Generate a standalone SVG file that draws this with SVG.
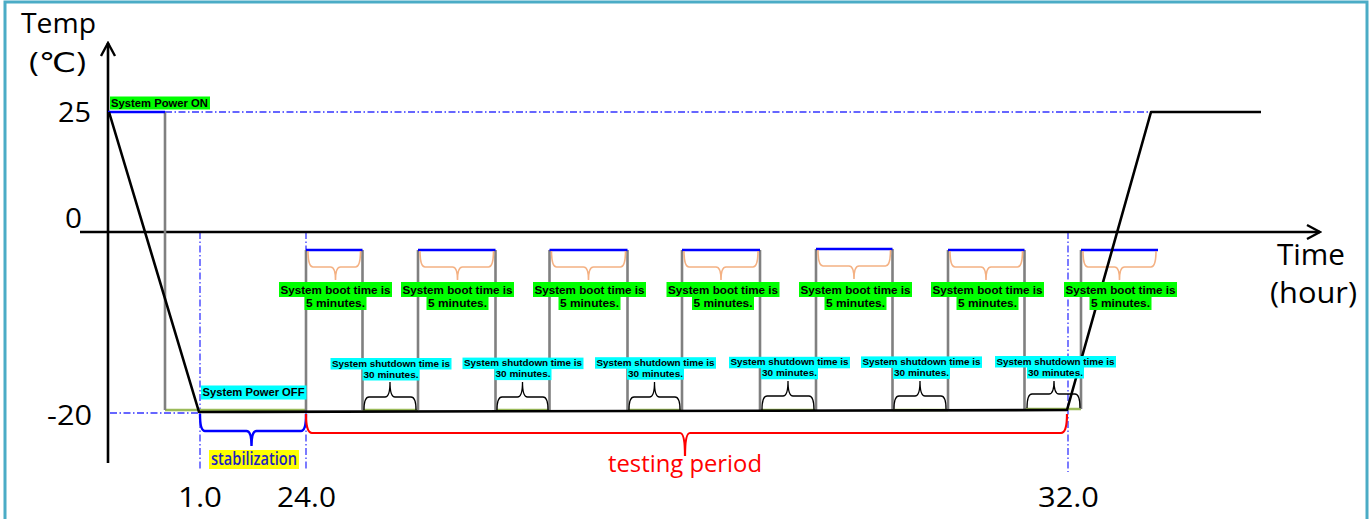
<svg xmlns="http://www.w3.org/2000/svg" width="1370" height="519" viewBox="0 0 1370 519">
  <style>
    .axis { stroke: #000; stroke-width: 2.6; fill: none; }
    .guide { stroke: #3535FF; stroke-width: 1.3; fill: none; stroke-dasharray: 7 2.5 1.5 2.5; }
    .gray { stroke: #808080; stroke-width: 2.6; fill: none; }
    .olive { stroke: #9BBB59; stroke-width: 2.4; fill: none; }
    .top { stroke: #0000FF; stroke-width: 2.6; fill: none; }
    .profile { stroke: #000; stroke-width: 2.6; fill: none; stroke-linejoin: round; }
    .boot { stroke: #F4B183; stroke-width: 1.6; fill: none; }
    .off { stroke: #000; stroke-width: 1.3; fill: none; }
    .big { font-family: "Open Sans", "DejaVu Sans", sans-serif; font-size: 27px; fill: #000; }
    .tag { font-family: "Liberation Sans", "Noto Sans", sans-serif; font-weight: bold; fill: #000; }
    .bootTxt { font-size: 11px; text-anchor: middle; }
    .offTxt { font-size: 9.6px; text-anchor: middle; }
    .green { fill: #00FF00; }
    .cyan { fill: #00FFFF; }
  </style>
  <defs>
    <marker id="chev" markerUnits="userSpaceOnUse" markerWidth="16" markerHeight="18" refX="14" refY="8" orient="auto" viewBox="0 0 16 16">
      <path d="M1,1 L14,8 L1,15" fill="none" stroke="#000" stroke-width="2.4"/>
    </marker>
  </defs>

  <!-- outer frame -->
  <rect x="5" y="2" width="1362" height="540" fill="#fff" stroke="#4BACC6" stroke-width="3"/>

  <!-- reference guides (dash-dot) -->
  <g id="guides">
    <path class="guide" d="M165,112 H1150"/>
    <path class="guide" d="M110,413 H199"/>
    <path class="guide" d="M200,232 V470"/>
    <path class="guide" d="M306,232 V470"/>
    <path class="guide" d="M1068,232 V472"/>
  </g>

  <!-- axes -->
  <g id="axes">
    <path class="axis" d="M108,463 V43" marker-end="url(#chev)"/>
    <path class="axis" d="M80,232 H1320" marker-end="url(#chev)"/>
  </g>

  <!-- power-off intervals at the bottom -->
  <g id="off-intervals">
    <path class="olive" d="M165,410 H306"/>
    <path class="olive" d="M362.5,410 H418"/>
    <path class="olive" d="M495.5,410 H549.5"/>
    <path class="olive" d="M627.5,410 H682"/>
    <path class="olive" d="M760,410 H816"/>
    <path class="olive" d="M892.5,410 H948"/>
    <path class="olive" d="M1024.5,409 H1081"/>
  </g>

  <!-- initial power-on segment -->
  <g id="power-on">
    <path class="gray" d="M165,112 V410"/>
    <path class="top" d="M108,112 H165"/>
  </g>

  <!-- boot cycles -->
  <g id="cycle-1">
    <path class="gray" d="M306,412 V250 M362.5,250 V410"/>
    <path class="top" d="M306,250 H362.5"/>
    <path class="boot" d="M308,251 Q308,267 313,267 L330.5,267 Q335.5,267 335.5,280 Q335.5,267 340.5,267 L355.5,267 Q360.5,267 360.5,251"/>
  </g>
  <g id="cycle-2">
    <path class="gray" d="M418,410 V250 M495.5,250 V410"/>
    <path class="top" d="M418,250 H495.5"/>
    <path class="boot" d="M420,251 Q420,267 425,267 L452.5,267 Q457.5,267 457.5,280 Q457.5,267 462.5,267 L488.5,267 Q493.5,267 493.5,251"/>
  </g>
  <g id="cycle-3">
    <path class="gray" d="M549.5,410 V250 M627.5,250 V410"/>
    <path class="top" d="M549.5,250 H627.5"/>
    <path class="boot" d="M551.5,251 Q551.5,267 556.5,267 L583.5,267 Q588.5,267 588.5,280 Q588.5,267 593.5,267 L620.5,267 Q625.5,267 625.5,251"/>
  </g>
  <g id="cycle-4">
    <path class="gray" d="M682,410 V250 M760,250 V410"/>
    <path class="top" d="M682,250 H760"/>
    <path class="boot" d="M684,251 Q684,267 689,267 L716,267 Q721,267 721,280 Q721,267 726,267 L753,267 Q758,267 758,251"/>
  </g>
  <g id="cycle-5">
    <path class="gray" d="M816,410 V249 M892.5,249 V410"/>
    <path class="top" d="M816,249 H892.5"/>
    <path class="boot" d="M818,250 Q818,266 823,266 L849,266 Q854,266 854,279 Q854,266 859,266 L885.5,266 Q890.5,266 890.5,250"/>
  </g>
  <g id="cycle-6">
    <path class="gray" d="M948,410 V250 M1024.5,250 V409"/>
    <path class="top" d="M948,250 H1024.5"/>
    <path class="boot" d="M950,251 Q950,267 955,267 L981,267 Q986,267 986,280 Q986,267 991,267 L1017.5,267 Q1022.5,267 1022.5,251"/>
  </g>
  <g id="cycle-7">
    <path class="gray" d="M1081,409 V250"/>
    <path class="top" d="M1081,250 H1158"/>
    <path class="boot" d="M1083,251 Q1083,267 1088,267 L1114.5,267 Q1119.5,267 1119.5,280 Q1119.5,267 1124.5,267 L1151,267 Q1156,267 1156,251"/>
  </g>

  <!-- shutdown braces -->
  <g id="shutdown-braces">
    <path class="off" d="M364,410 Q364,397 369,397 L385,397 Q390,397 390,382 Q390,397 395,397 L411,397 Q416,397 416,410"/>
    <path class="off" d="M497,410 Q497,397 502,397 L517.5,397 Q522.5,397 522.5,382 Q522.5,397 527.5,397 L543,397 Q548,397 548,410"/>
    <path class="off" d="M629,410 Q629,397 634,397 L649.5,397 Q654.5,397 654.5,382 Q654.5,397 659.5,397 L675,397 Q680,397 680,410"/>
    <path class="off" d="M762,410 Q762,396 767,396 L783,396 Q788,396 788,381 Q788,396 793,396 L809,396 Q814,396 814,410"/>
    <path class="off" d="M894,409 Q894,396 899,396 L915,396 Q920,396 920,381 Q920,396 925,396 L941,396 Q946,396 946,409"/>
    <path class="off" d="M1027,408 Q1027,394 1032,394 L1049,394 Q1054,394 1054,381 Q1054,394 1059,394 L1075,394 Q1080,394 1080,408"/>
  </g>

  <!-- temperature profile -->
  <g id="profile">
    <path class="profile" d="M109,112 L199,412 L1067,410 L1151,112 H1261"/>
  </g>

  <!-- period braces -->
  <g id="period-braces">
    <path d="M200,414 Q200,431 205,431 L246.5,431 Q251.5,431 251.5,446 Q251.5,431 256.5,431 L301,431 Q306,431 306,414" fill="none" stroke="#0000FF" stroke-width="2.4"/>
    <path d="M306,414 Q306,433 312,433 L680,433 Q685,433 685,456 Q685,433 690,433 L1061,433 Q1067,433 1067,414" fill="none" stroke="#FF0000" stroke-width="2.2"/>
  </g>

  <!-- axis labels -->
  <g id="axis-labels">
    <text class="big" x="21" y="33" textLength="75" lengthAdjust="spacingAndGlyphs">Temp</text>
    <text class="big" x="29" y="72" textLength="57" lengthAdjust="spacingAndGlyphs">(℃)</text>
    <text class="big" x="58" y="122" textLength="33" lengthAdjust="spacingAndGlyphs">25</text>
    <text class="big" x="65" y="228" textLength="17" lengthAdjust="spacingAndGlyphs">0</text>
    <text class="big" x="47" y="425" textLength="45" lengthAdjust="spacingAndGlyphs">-20</text>
    <text class="big" x="1277" y="265" style="font-size:29px" textLength="68" lengthAdjust="spacingAndGlyphs">Time</text>
    <text class="big" x="1270" y="303" style="font-size:29px" textLength="87" lengthAdjust="spacingAndGlyphs">(hour)</text>
    <text class="big" x="178" y="507" textLength="44" lengthAdjust="spacingAndGlyphs">1.0</text>
    <text class="big" x="277" y="507" textLength="59" lengthAdjust="spacingAndGlyphs">24.0</text>
    <text class="big" x="1038" y="507" textLength="61" lengthAdjust="spacingAndGlyphs">32.0</text>
  </g>

  <!-- period labels -->
  <g id="period-labels">
    <rect x="209" y="450" width="90" height="19" fill="#FFFF00"/>
    <text x="211" y="465" font-family="Open Sans, DejaVu Sans, sans-serif" font-size="18" font-weight="600" fill="#1F1FBF" textLength="86" lengthAdjust="spacingAndGlyphs">stabilization</text>
    <text x="608" y="472" font-family="Open Sans, DejaVu Sans, sans-serif" font-size="23" fill="#FF0000" textLength="154" lengthAdjust="spacingAndGlyphs">testing period</text>
  </g>

  <!-- power state tags -->
  <g id="power-tags">
    <rect class="green" x="110" y="96.5" width="100" height="13"/>
    <text class="tag" x="111" y="107" font-size="11" textLength="97" lengthAdjust="spacingAndGlyphs">System Power ON</text>
    <rect class="cyan" x="201" y="385.5" width="105.5" height="14"/>
    <text class="tag" x="202.5" y="396" font-size="11.5" textLength="102" lengthAdjust="spacingAndGlyphs">System Power OFF</text>
  </g>

  <!-- boot time tags -->
  <g id="boot-tags">
    <g transform="translate(335.5,0)">
      <rect class="green" x="-56.5" y="282" width="113" height="15"/><rect class="green" x="-31" y="296" width="62" height="14"/>
      <text class="tag bootTxt" x="0" y="294.3" textLength="110" lengthAdjust="spacingAndGlyphs">System boot time is</text>
      <text class="tag bootTxt" x="0" y="306.7" textLength="59" lengthAdjust="spacingAndGlyphs">5 minutes.</text>
    </g>
    <g transform="translate(457.5,0)">
      <rect class="green" x="-56.5" y="282" width="113" height="15"/><rect class="green" x="-31" y="296" width="62" height="14"/>
      <text class="tag bootTxt" x="0" y="294.3" textLength="110" lengthAdjust="spacingAndGlyphs">System boot time is</text>
      <text class="tag bootTxt" x="0" y="306.7" textLength="59" lengthAdjust="spacingAndGlyphs">5 minutes.</text>
    </g>
    <g transform="translate(589.5,0)">
      <rect class="green" x="-56.5" y="282" width="113" height="15"/><rect class="green" x="-31" y="296" width="62" height="14"/>
      <text class="tag bootTxt" x="0" y="294.3" textLength="110" lengthAdjust="spacingAndGlyphs">System boot time is</text>
      <text class="tag bootTxt" x="0" y="306.7" textLength="59" lengthAdjust="spacingAndGlyphs">5 minutes.</text>
    </g>
    <g transform="translate(723,0)">
      <rect class="green" x="-56.5" y="282" width="113" height="15"/><rect class="green" x="-31" y="296" width="62" height="14"/>
      <text class="tag bootTxt" x="0" y="294.3" textLength="110" lengthAdjust="spacingAndGlyphs">System boot time is</text>
      <text class="tag bootTxt" x="0" y="306.7" textLength="59" lengthAdjust="spacingAndGlyphs">5 minutes.</text>
    </g>
    <g transform="translate(855.5,0)">
      <rect class="green" x="-56.5" y="282" width="113" height="15"/><rect class="green" x="-31" y="296" width="62" height="14"/>
      <text class="tag bootTxt" x="0" y="294.3" textLength="110" lengthAdjust="spacingAndGlyphs">System boot time is</text>
      <text class="tag bootTxt" x="0" y="306.7" textLength="59" lengthAdjust="spacingAndGlyphs">5 minutes.</text>
    </g>
    <g transform="translate(987.5,0)">
      <rect class="green" x="-56.5" y="282" width="113" height="15"/><rect class="green" x="-31" y="296" width="62" height="14"/>
      <text class="tag bootTxt" x="0" y="294.3" textLength="110" lengthAdjust="spacingAndGlyphs">System boot time is</text>
      <text class="tag bootTxt" x="0" y="306.7" textLength="59" lengthAdjust="spacingAndGlyphs">5 minutes.</text>
    </g>
    <g transform="translate(1120.5,0)">
      <rect class="green" x="-56.5" y="282" width="113" height="15"/><rect class="green" x="-31" y="296" width="62" height="14"/>
      <text class="tag bootTxt" x="0" y="294.3" textLength="110" lengthAdjust="spacingAndGlyphs">System boot time is</text>
      <text class="tag bootTxt" x="0" y="306.7" textLength="59" lengthAdjust="spacingAndGlyphs">5 minutes.</text>
    </g>
  </g>

  <!-- shutdown time tags -->
  <g id="shutdown-tags">
    <g transform="translate(391,0)">
      <rect class="cyan" x="-60.5" y="358" width="121" height="11.5"/><rect class="cyan" x="-28.5" y="369" width="57" height="11.5"/>
      <text class="tag offTxt" x="0" y="366.7" textLength="118" lengthAdjust="spacingAndGlyphs">System shutdown time is</text>
      <text class="tag offTxt" x="0" y="377.5" textLength="55" lengthAdjust="spacingAndGlyphs">30 minutes.</text>
    </g>
    <g transform="translate(523,-0.4)">
      <rect class="cyan" x="-60.5" y="358" width="121" height="11.5"/><rect class="cyan" x="-28.5" y="369" width="57" height="11.5"/>
      <text class="tag offTxt" x="0" y="366.7" textLength="118" lengthAdjust="spacingAndGlyphs">System shutdown time is</text>
      <text class="tag offTxt" x="0" y="377.5" textLength="55" lengthAdjust="spacingAndGlyphs">30 minutes.</text>
    </g>
    <g transform="translate(655.5,-0.8)">
      <rect class="cyan" x="-60.5" y="358" width="121" height="11.5"/><rect class="cyan" x="-28.5" y="369" width="57" height="11.5"/>
      <text class="tag offTxt" x="0" y="366.7" textLength="118" lengthAdjust="spacingAndGlyphs">System shutdown time is</text>
      <text class="tag offTxt" x="0" y="377.5" textLength="55" lengthAdjust="spacingAndGlyphs">30 minutes.</text>
    </g>
    <g transform="translate(789.5,-1.2)">
      <rect class="cyan" x="-60.5" y="358" width="121" height="11.5"/><rect class="cyan" x="-28.5" y="369" width="57" height="11.5"/>
      <text class="tag offTxt" x="0" y="366.7" textLength="118" lengthAdjust="spacingAndGlyphs">System shutdown time is</text>
      <text class="tag offTxt" x="0" y="377.5" textLength="55" lengthAdjust="spacingAndGlyphs">30 minutes.</text>
    </g>
    <g transform="translate(921.5,-1.6)">
      <rect class="cyan" x="-60.5" y="358" width="121" height="11.5"/><rect class="cyan" x="-28.5" y="369" width="57" height="11.5"/>
      <text class="tag offTxt" x="0" y="366.7" textLength="118" lengthAdjust="spacingAndGlyphs">System shutdown time is</text>
      <text class="tag offTxt" x="0" y="377.5" textLength="55" lengthAdjust="spacingAndGlyphs">30 minutes.</text>
    </g>
    <g transform="translate(1055.5,-2)">
      <rect class="cyan" x="-60.5" y="358" width="121" height="11.5"/><rect class="cyan" x="-28.5" y="369" width="57" height="11.5"/>
      <text class="tag offTxt" x="0" y="366.7" textLength="118" lengthAdjust="spacingAndGlyphs">System shutdown time is</text>
      <text class="tag offTxt" x="0" y="377.5" textLength="55" lengthAdjust="spacingAndGlyphs">30 minutes.</text>
    </g>
  </g>
</svg>
